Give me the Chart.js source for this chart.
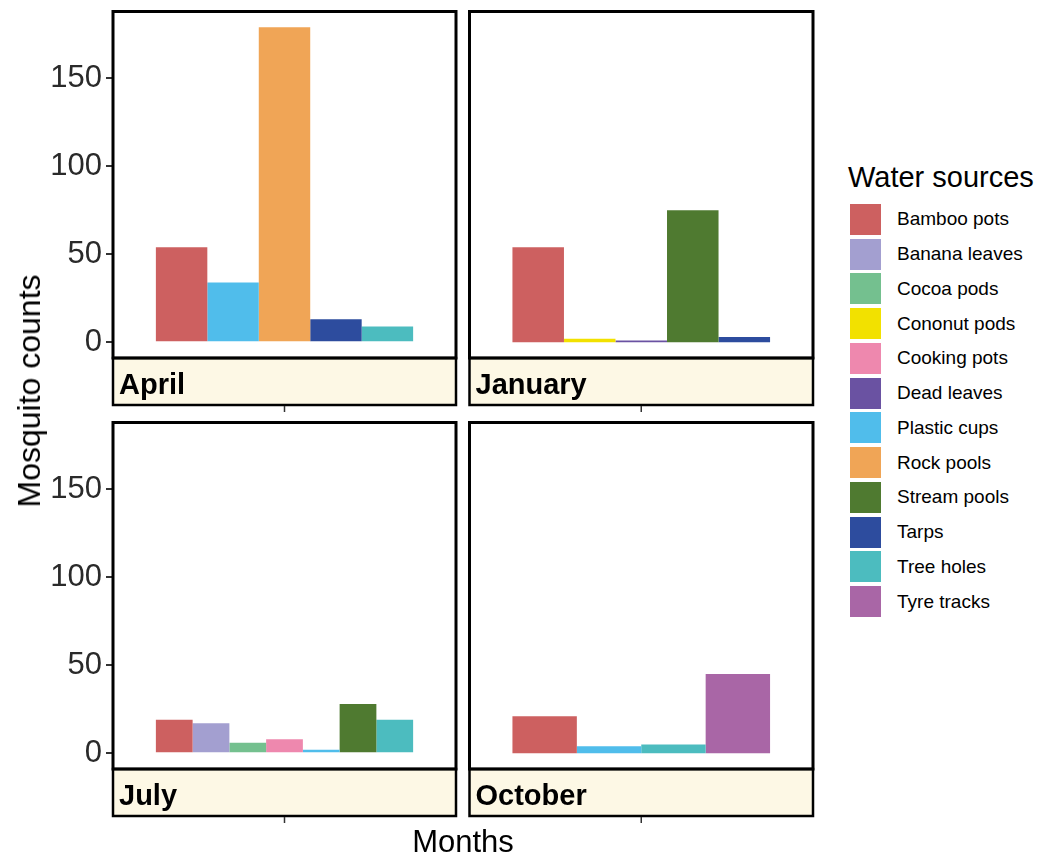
<!DOCTYPE html>
<html>
<head>
<meta charset="utf-8">
<title>Mosquito counts by water source</title>
<script src="https://cdn.jsdelivr.net/npm/chart.js@4.4.1/dist/chart.umd.min.js"></script>
<style>
  body { margin: 0; background: #fff; font-family: 'Liberation Sans', Arial, sans-serif; }
  #wrap { position: relative; width: 1037px; height: 855px; overflow: hidden; background: #fff; }
  #wrap canvas { position: absolute; }
  .axis-title { position: absolute; color: #000; white-space: nowrap; }
  #yTitle { left: 29px; top: 391px; font-size: 32px; line-height: 32px; transform: translate(-50%, -50%) rotate(-90deg); }
  #xTitle { left: 463px; top: 841px; font-size: 31px; line-height: 31px; transform: translate(-50%, -50%); }
  #legend { position: absolute; left: 848px; top: 163px; }
  #legend .title { font-size: 29px; line-height: 29px; color: #000; margin-bottom: 10px; white-space: nowrap; }
  #legend .row { display: flex; align-items: center; height: 34.76px; }
  #legend .key { width: 31px; height: 31px; margin-left: 2px; margin-right: 16px; }
  #legend .lab { font-size: 19px; color: #000; white-space: nowrap; }
</style>
</head>
<body>
<div id="wrap">
  <canvas id="panelApril" width="460" height="420" style="left:0;top:0"></canvas>
  <canvas id="panelJanuary" width="370" height="420" style="left:460px;top:0"></canvas>
  <canvas id="panelJuly" width="460" height="445" style="left:0;top:410px"></canvas>
  <canvas id="panelOctober" width="370" height="445" style="left:460px;top:410px"></canvas>
  <div class="axis-title" id="yTitle">Mosquito counts</div>
  <div class="axis-title" id="xTitle">Months</div>
  <div id="legend"></div>
</div>
<script>
const sources = [
  'Bamboo pots', 'Banana leaves', 'Cocoa pods', 'Cononut pods',
  'Cooking pots', 'Dead leaves', 'Plastic cups', 'Rock pools',
  'Stream pools', 'Tarps', 'Tree holes', 'Tyre tracks'
];
const sourceColors = [
  '#cd6060', '#a39fd0', '#74c08f', '#f2e100',
  '#ee88ae', '#6a52a2', '#50bdeb', '#f0a556',
  '#4f7a30', '#2d4c9e', '#4cbcbf', '#a966a6'
];
const yTicks = [0, 50, 100, 150];

// counts per water source (same order as sources), null = not found that month
const aprilCounts   = [54, null, null, null, null, null, 34, 179, null, 13, 9, null];
const januaryCounts = [54, null, null, 2, null, 1, null, null, 75, 3, null, null];
const julyCounts    = [19, 17, 6, null, 8, null, 2, null, 28, null, 19, null];
const octoberCounts = [21, null, null, null, null, null, 4, null, null, null, 5, 45];

// shared y range with 5% expansion on both ends
const allCounts = [].concat(aprilCounts, januaryCounts, julyCounts, octoberCounts).filter(v => v !== null);
const maxCount = Math.max(...allCounts);
const yMin = -0.05 * maxCount;
const yMax = maxCount * 1.05;

// panel frame, strip underneath with the month name, and the x tick below the strip
const facetPlugin = {
  id: 'facetPanel',
  afterDraw(chart) {
    const ctx = chart.ctx;
    const a = chart.chartArea;
    const stripH = 47;
    ctx.save();
    ctx.fillStyle = '#fdf8e5';
    ctx.fillRect(a.left, a.bottom, a.right - a.left, stripH);
    ctx.strokeStyle = '#000';
    ctx.lineWidth = 2.5;
    ctx.strokeRect(a.left, a.bottom, a.right - a.left, stripH);
    ctx.lineWidth = 3;
    ctx.strokeRect(a.left, a.top, a.right - a.left, a.bottom - a.top);

    ctx.fillStyle = '#000';
    ctx.font = 'bold 29px "Liberation Sans", Arial, sans-serif';
    ctx.textBaseline = 'alphabetic';
    ctx.fillText(chart.data.labels[0], a.left + 6, a.bottom + 36);

    const tx = chart.scales.x.getPixelForValue(0);
    ctx.strokeStyle = '#333';
    ctx.lineWidth = 1.5;
    ctx.beginPath();
    ctx.moveTo(tx, a.bottom + stripH + 1);
    ctx.lineTo(tx, a.bottom + stripH + 7);
    ctx.stroke();
    ctx.restore();
  }
};

function makePanel(canvasId, month, counts, showY, padding) {
  const datasets = sources.map((name, i) => ({
    label: name,
    data: [counts[i]],
    backgroundColor: sourceColors[i],
    borderWidth: 0,
    skipNull: true,
    categoryPercentage: 0.75,
    barPercentage: 1.0
  }));

  return new Chart(document.getElementById(canvasId).getContext('2d'), {
    type: 'bar',
    data: { labels: [month], datasets: datasets },
    plugins: [facetPlugin],
    options: {
      responsive: false,
      animation: false,
      layout: { padding: padding },
      plugins: {
        legend: { display: false },
        tooltip: { enabled: false }
      },
      scales: {
        x: { display: false },
        y: {
          display: showY,
          min: yMin,
          max: yMax,
          afterBuildTicks: scale => {
            scale.ticks = yTicks.map(v => ({ value: v }));
          },
          afterFit: scale => {
            // fixed axis width, and no extra room reserved for the end labels
            scale.width = showY ? 113 : 0;
            scale.paddingTop = 0;
            scale.paddingBottom = 0;
          },
          border: { display: false },
          grid: {
            drawOnChartArea: false,
            drawTicks: true,
            tickLength: 7,
            color: '#333',
            lineWidth: 2
          },
          ticks: {
            padding: 4,
            color: '#2a2a2a',
            font: { family: '"Liberation Sans", Arial, sans-serif', size: 31 }
          }
        }
      }
    }
  });
}

makePanel('panelApril', 'April', aprilCounts, true, { left: 0, right: 4, top: 11.5, bottom: 62 });
makePanel('panelJanuary', 'January', januaryCounts, false, { left: 9.5, right: 17, top: 11.5, bottom: 62 });
makePanel('panelJuly', 'July', julyCounts, true, { left: 0, right: 4, top: 12.5, bottom: 86 });
makePanel('panelOctober', 'October', octoberCounts, false, { left: 9.5, right: 17, top: 12.5, bottom: 86 });

// legend
const legend = document.getElementById('legend');
const title = document.createElement('div');
title.className = 'title';
title.textContent = 'Water sources';
legend.appendChild(title);
sources.forEach((name, i) => {
  const row = document.createElement('div');
  row.className = 'row';
  const key = document.createElement('div');
  key.className = 'key';
  key.style.background = sourceColors[i];
  const lab = document.createElement('div');
  lab.className = 'lab';
  lab.textContent = name;
  row.appendChild(key);
  row.appendChild(lab);
  legend.appendChild(row);
});
</script>
</body>
</html>
